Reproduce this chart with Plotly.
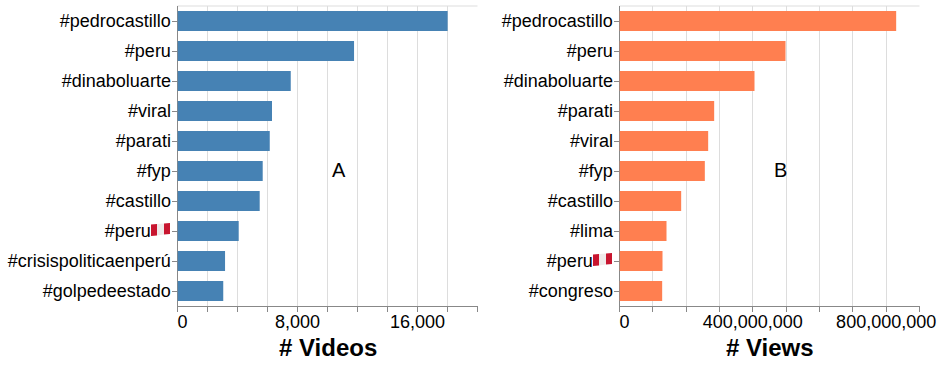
import plotly.graph_objects as go
from plotly.subplots import make_subplots
import base64

# values
video_tags = ['#pedrocastillo', '#peru', '#dinaboluarte', '#viral', '#parati', '#fyp',
              '#castillo', '#peru🇵🇪', '#crisispoliticaenperú', '#golpedeestado']
video_counts = [18010, 11770, 7550, 6300, 6150, 5680, 5480, 4080, 3170, 3050]

view_tags = ['#pedrocastillo', '#peru', '#dinaboluarte', '#parati', '#viral', '#fyp',
             '#castillo', '#lima', '#peru🇵🇪', '#congreso']
view_counts = [830e6, 498e6, 405e6, 284e6, 266e6, 256e6, 185e6, 141e6, 129e6, 128e6]

video_ticks = list(range(0, 20001, 2000))
video_ticktext = ['\u00a0\u00a00', '', '', '', '8,000', '', '', '', '16,000', '', '']
view_ticks = [i * 100e6 for i in range(10)]
view_ticktext = ['\u00a0\u00a00', '', '', '', '400,000,000', '', '', '', '800,000,000', '']

W, H = 942, 365
FONT = 'Liberation Sans'

# no emoji font here, the flag is drawn next to the label
flag_svg = ('<svg xmlns="http://www.w3.org/2000/svg" width="19" height="13" viewBox="0 0 19 13">'
            '<polygon points="0,1.5 6,1 6,12.5 0,13" fill="#c8152f"/>'
            '<polygon points="6,1 13,0.5 13,11.5 6,12.5" fill="#efeaea"/>'
            '<polygon points="13,0.5 19,0 19,11 13,11.5" fill="#c8152f"/></svg>')
flag_src = 'data:image/svg+xml;base64,' + base64.b64encode(flag_svg.encode()).decode()


def labels(tags):
    return [t.replace('🇵🇪', '\u00a0\u00a0\u00a0\u00a0') for t in tags]


fig = make_subplots(rows=1, cols=2)
fig.add_trace(go.Bar(y=video_tags, x=video_counts, orientation='h',
                     marker=dict(color='#4682b4', line_width=0), width=2 / 3), row=1, col=1)
fig.add_trace(go.Bar(y=view_tags, x=view_counts, orientation='h',
                     marker=dict(color='#ff7f50', line_width=0), width=2 / 3), row=1, col=2)

x_style = dict(showgrid=True, gridcolor='#dddddd', gridwidth=1, zeroline=False, automargin=False,
               showline=True, linecolor='#888888', linewidth=1, layer='below traces',
               ticks='outside', ticklen=5, tickcolor='#888888', tickwidth=1, ticklabelstandoff=-6,
               tickfont=dict(family=FONT, size=18, color='black'), tickangle=0,
               tickmode='array')
y_style = dict(showgrid=False, zeroline=False, showline=True, linecolor='#888888', linewidth=1,
               layer='below traces', ticks='outside', ticklen=5, tickcolor='#888888', tickwidth=1,
               tickfont=dict(family=FONT, size=18, color='black'), tickmode='array', automargin=False,
               ticklabelstandoff=-3, autorange=False, range=[9.5, -0.5], type='category')
title_font = dict(family=FONT, size=24, color='black', weight='bold')

fig.update_xaxes(**x_style)
fig.update_yaxes(**y_style)
fig.update_xaxes(domain=[177.5 / W, 477.5 / W], range=[0, 20000], tickvals=video_ticks,
                 ticktext=video_ticktext, row=1, col=1)
fig.update_xaxes(domain=[619.5 / W, 919.5 / W], range=[0, 900e6], tickvals=view_ticks,
                 ticktext=view_ticktext, row=1, col=2)
fig.update_yaxes(domain=[1 - 306 / H, 1 - 6 / H], tickvals=video_tags,
                 ticktext=labels(video_tags), row=1, col=1)
fig.update_yaxes(domain=[1 - 306 / H, 1 - 6 / H], tickvals=view_tags,
                 ticktext=labels(view_tags), row=1, col=2)

fig.update_layout(
    width=W, height=H, margin=dict(l=0, r=0, t=0, b=0),
    paper_bgcolor='white', plot_bgcolor='white', showlegend=False,
    shapes=[
        dict(type='line', xref='x domain', yref='y domain', x0=0, x1=1, y0=1, y1=1,
             line=dict(color='#dddddd', width=1), layer='below'),
        dict(type='line', xref='x2 domain', yref='y2 domain', x0=0, x1=1, y0=1, y1=1,
             line=dict(color='#dddddd', width=1), layer='below'),
    ],
    annotations=[
        dict(text='A', xref='x', yref='paper', x=10770, y=1 - 170 / H, yanchor='middle', showarrow=False,
             font=dict(family=FONT, size=20, color='black')),
        dict(text='B', xref='x2', yref='paper', x=483e6, y=1 - 170 / H, yanchor='middle', showarrow=False,
             font=dict(family=FONT, size=20, color='black')),
        dict(text='# Videos', xref='x domain', yref='paper', x=0.5, y=1 - 347 / H, yanchor='middle',
             showarrow=False, font=title_font),
        dict(text='# Views', xref='x2 domain', yref='paper', x=0.5, y=1 - 347 / H, yanchor='middle',
             showarrow=False, font=title_font),
    ],
    images=[
        dict(source=flag_src, xref='paper', yref='paper', x=151 / W, y=1 - 223 / H,
             sizex=19 / W, sizey=13 / H, xanchor='left', yanchor='top', sizing='stretch', layer='above'),
        dict(source=flag_src, xref='paper', yref='paper', x=593 / W, y=1 - 253 / H,
             sizex=19 / W, sizey=13 / H, xanchor='left', yanchor='top', sizing='stretch', layer='above'),
    ],
)

fig.write_html('out.html', config=dict(displayModeBar=False),
               post_script="document.body.style.margin='0';")
